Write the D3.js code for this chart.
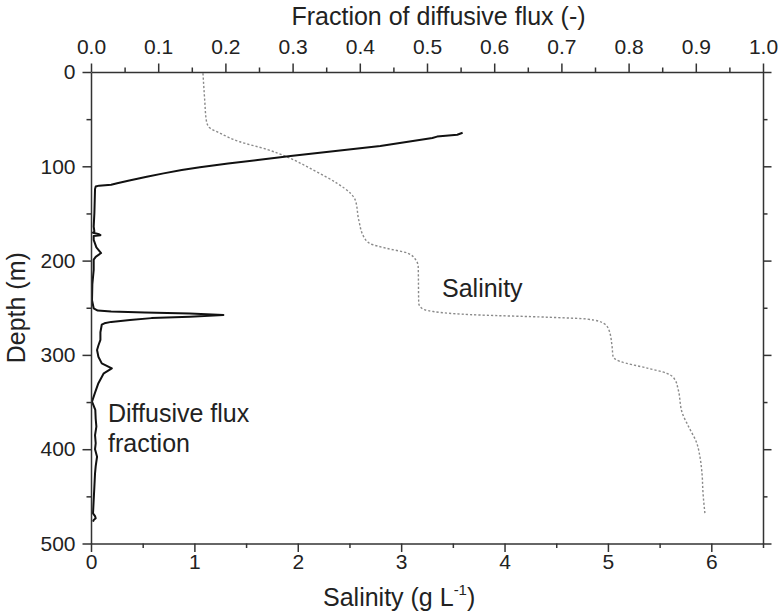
<!DOCTYPE html>
<html>
<head>
<meta charset="utf-8">
<script src="https://cdn.jsdelivr.net/npm/d3@7"></script>
<style>
  body { margin: 0; background: #fff; }
  svg { display: block; }
  text { font-family: "Liberation Sans", Arial, sans-serif; fill: #222; }
</style>
</head>
<body>
<svg id="chart" width="780" height="616"></svg>
<script>
// Diffusive flux fraction profile (depth in m, fraction of total flux)
const fluxDepth = [64.4, 66.5, 68.5, 70, 78.5, 89.1, 93.3, 97, 101, 104, 107.5, 111, 115, 118, 119.5, 120.5, 121.5, 124,
  150, 164, 169, 170.5, 172, 173, 174, 178, 186, 192, 196, 199, 210, 225, 242, 250.6,
  253, 254, 255, 256, 257.7, 259.5, 261, 263.1, 265, 266.5, 268, 276, 284, 290, 294.8,
  302, 309, 314.2, 319.5, 330, 340, 349.6, 358.4, 368, 376, 385, 393.7, 400, 408, 418,
  425.6, 440, 453.9, 468, 471, 473.3, 475, 476.9];
const fluxFraction = [0.553, 0.545, 0.515, 0.508, 0.4305, 0.297, 0.248, 0.204, 0.162, 0.135, 0.108, 0.083, 0.057, 0.039, 0.030, 0.012, 0.007, 0.006,
  0.005, 0.004, 0.005, 0.003, 0.012, 0.014, 0.004, 0.004, 0.008, 0.015, 0.007, 0.004, 0.004, 0.002, 0.0015, 0.004,
  0.010, 0.03, 0.08, 0.147, 0.197, 0.147, 0.09, 0.058, 0.03, 0.02, 0.016, 0.014, 0.014, 0.011, 0.009,
  0.011, 0.016, 0.031, 0.019, 0.011, 0.006, 0.0015, 0.0064, 0.007, 0.008, 0.006, 0.007, 0.006, 0.009, 0.007,
  0.006, 0.005, 0.004, 0.003, 0.006, 0.007, 0.004, 0.003];

// Salinity profile (depth in m, g/L)
const salDepth = [1.4, 30, 51, 58, 65, 74, 82, 90, 104, 118, 128.6, 135.7, 157, 175, 182, 187, 192, 199, 206.5,
  245, 250.6, 254, 257.7, 260, 262, 266.5, 273.6, 291, 302, 307, 314, 319.5, 326.6, 337, 362, 376,
  393.7, 408, 425.6, 446.8, 469.8];
const salValue = [1.083, 1.10, 1.115, 1.137, 1.25, 1.44, 1.70, 1.895, 2.15, 2.38, 2.51, 2.556, 2.59, 2.64, 2.70, 2.86, 3.06, 3.14, 3.165,
  3.17, 3.20, 3.31, 3.76, 4.41, 4.80, 4.96, 5.01, 5.04, 5.05, 5.12, 5.38, 5.57, 5.65, 5.68, 5.72, 5.78,
  5.86, 5.89, 5.91, 5.92, 5.94];

// Axis ticks
const depthTicks = [0, 100, 200, 300, 400, 500];
const depthMinor = [50, 150, 250, 350, 450];
const fracTicks = [0, 0.1, 0.2, 0.3, 0.4, 0.5, 0.6, 0.7, 0.8, 0.9, 1.0];
const fracMinor = [0.05, 0.15, 0.25, 0.35, 0.45, 0.55, 0.65, 0.75, 0.85, 0.95];
const salTicks = [0, 1, 2, 3, 4, 5, 6];
const salMinor = [0.5, 1.5, 2.5, 3.5, 4.5, 5.5, 6.5];

const plot = { left: 91, right: 763, top: 72, bottom: 543.5 };
const axisColor = "#333";
const majorLen = 8.5, minorLen = 4.5;

const svg = d3.select("#chart");

const y = d3.scaleLinear().domain([0, 500]).range([plot.top, plot.bottom]);
const xFrac = d3.scaleLinear().domain([0, 1]).range([plot.left, plot.right]);
const xSal = d3.scaleLinear().domain([0, 6.5]).range([plot.left, plot.right]);

// Data lines
const salLine = d3.line()
  .x((d, i) => xSal(salValue[i]))
  .y(d => y(d))
  .curve(d3.curveMonotoneY);

svg.append("path")
  .attr("d", salLine(salDepth))
  .attr("fill", "none")
  .attr("stroke", "#8a8a8a")
  .attr("stroke-width", 1.4)
  .attr("stroke-dasharray", "2.2,2");

const fluxLine = d3.line()
  .x((d, i) => xFrac(fluxFraction[i]))
  .y(d => y(d))
  .curve(d3.curveLinear);

svg.append("path")
  .attr("d", fluxLine(fluxDepth))
  .attr("fill", "none")
  .attr("stroke", "#111")
  .attr("stroke-width", 2)
  .attr("stroke-linejoin", "round");

// Axes
function styleAxis(g) {
  g.select(".domain").attr("stroke", axisColor).attr("stroke-width", 1.5);
  g.selectAll(".tick line").attr("stroke", axisColor).attr("stroke-width", 1.5);
  g.selectAll(".tick text").attr("fill", "#222").style("font-size", "21px")
    .style("font-family", "'Liberation Sans', Arial, sans-serif");
}
function addAxis(axis, tx, ty, minorAxis) {
  const g = svg.append("g").attr("transform", `translate(${tx},${ty})`).call(axis);
  styleAxis(g);
  const m = svg.append("g").attr("transform", `translate(${tx},${ty})`).call(minorAxis);
  m.select(".domain").remove();
  styleAxis(m);
  return g;
}

addAxis(
  d3.axisTop(xFrac).tickValues(fracTicks).tickFormat(d3.format(".1f"))
    .tickSize(majorLen).tickSizeOuter(0).tickPadding(10),
  0, plot.top,
  d3.axisTop(xFrac).tickValues(fracMinor).tickFormat("").tickSize(minorLen).tickSizeOuter(0));

addAxis(
  d3.axisBottom(xSal).tickValues(salTicks).tickFormat(d3.format("d"))
    .tickSize(majorLen).tickSizeOuter(0).tickPadding(2),
  0, plot.bottom,
  d3.axisBottom(xSal).tickValues(salMinor).tickFormat("").tickSize(minorLen).tickSizeOuter(0));

addAxis(
  d3.axisLeft(y).tickValues(depthTicks).tickFormat(d3.format("d"))
    .tickSize(majorLen).tickSizeOuter(0).tickPadding(7),
  plot.left, 0,
  d3.axisLeft(y).tickValues(depthMinor).tickFormat("").tickSize(minorLen).tickSizeOuter(0));

addAxis(
  d3.axisRight(y).tickValues(depthTicks).tickFormat("")
    .tickSize(majorLen).tickSizeOuter(0),
  plot.right, 0,
  d3.axisRight(y).tickValues(depthMinor).tickFormat("").tickSize(minorLen).tickSizeOuter(0));

// Axis titles
svg.append("text")
  .attr("x", 438.5).attr("y", 25)
  .attr("text-anchor", "middle")
  .style("font-size", "25px")
  .text("Fraction of diffusive flux (-)");

const salTitle = svg.append("text")
  .attr("x", 323).attr("y", 606)
  .style("font-size", "25px");
salTitle.append("tspan").text("Salinity (g L");
salTitle.append("tspan").attr("dy", -11).style("font-size", "15px").text("-1");
salTitle.append("tspan").attr("dy", 11).text(")");

svg.append("text")
  .attr("transform", `translate(25,${(plot.top + plot.bottom) / 2}) rotate(-90)`)
  .attr("text-anchor", "middle")
  .style("font-size", "25px")
  .text("Depth (m)");

// Curve labels
svg.append("text")
  .attr("x", 442).attr("y", 297)
  .style("font-size", "25px")
  .text("Salinity");

const fluxLabel = svg.append("text")
  .attr("x", 108).attr("y", 421.5)
  .style("font-size", "25px");
fluxLabel.append("tspan").attr("x", 108).text("Diffusive flux");
fluxLabel.append("tspan").attr("x", 108).attr("dy", 30).text("fraction");
</script>
</body>
</html>
